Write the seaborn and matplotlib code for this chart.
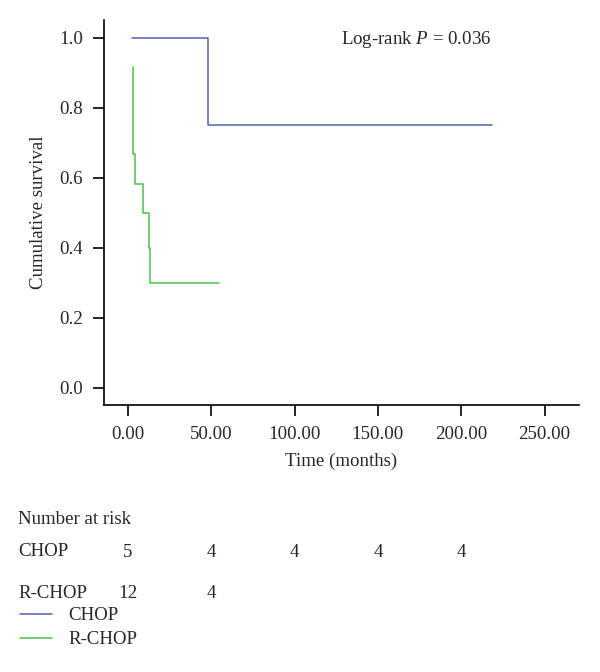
import matplotlib
matplotlib.use("Agg")
import matplotlib.pyplot as plt
import seaborn as sns
import pandas as pd

# Kaplan-Meier step points
chop_time = [2.2, 47.8, 218.5]
chop_surv = [1.0, 0.75, 0.75]
rchop_time = [3.0, 3.3, 4.2, 8.8, 12.8, 13.4, 54.8]
rchop_surv = [0.917, 0.667, 0.583, 0.5, 0.4, 0.3, 0.3]

groups = ["CHOP", "R-CHOP"]
colors = ["#4f63a8", "#4cbf4c"]

# number at risk table
risk_times = [0, 50, 100, 150, 200]
risk_chop = [5, 4, 4, 4, 4]
risk_rchop = [12, 4]

xticks = [0, 50, 100, 150, 200, 250]
yticks = [0.0, 0.2, 0.4, 0.6, 0.8, 1.0]

df = pd.DataFrame({
    "time": chop_time + rchop_time,
    "surv": chop_surv + rchop_surv,
    "group": ["CHOP"] * len(chop_time) + ["R-CHOP"] * len(rchop_time),
})

sns.set_style("ticks")
plt.rcParams["font.family"] = ["Liberation Serif", "DejaVu Serif"]
plt.rcParams["mathtext.fontset"] = "custom"
plt.rcParams["mathtext.it"] = "Liberation Serif:italic"
plt.rcParams["mathtext.rm"] = "Liberation Serif"
fs = 13.6

fig = plt.figure(figsize=(6, 6.72), dpi=100)
ax = fig.add_axes([0.1733, 0.3973, 0.7917, 0.5729])

sns.lineplot(data=df, x="time", y="surv", hue="group", palette=colors,
             drawstyle="steps-post", linewidth=1.1, ax=ax, estimator=None,
             sort=False)

ax.set_xlim(-14.4, 270.7)
ax.set_ylim(-0.049, 1.051)
ax.set_xticks(xticks)
ax.set_xticklabels([f"{v:.2f}" for v in xticks], fontsize=fs)
ax.set_yticks(yticks)
ax.set_yticklabels([f"{v:.1f}" for v in yticks], fontsize=fs)
ax.tick_params(axis="both", length=8, width=1.2, color="black", pad=7)
for s in ["left", "bottom"]:
    ax.spines[s].set_linewidth(1.2)
    ax.spines[s].set_color("black")
sns.despine(ax=ax)

ax.set_xlabel("Time (months)", fontsize=fs, labelpad=7)
ax.set_ylabel("Cumulative survival", fontsize=fs, labelpad=9)

ax.text(0.50, 0.95, "Log-rank $P$ = 0.036", transform=ax.transAxes,
        fontsize=fs, ha="left", va="center")

# number at risk
tr = ax.get_xaxis_transform()
fig.text(18 / 600, 1 - 519 / 672, "Number at risk", fontsize=fs, va="center")
fig.text(18 / 600, 1 - 552 / 672, "CHOP", fontsize=fs, va="center")
fig.text(18 / 600, 1 - 593 / 672, "R-CHOP", fontsize=fs, va="center")
for t, n in zip(risk_times, risk_chop):
    ax.text(t, (405 - 552) / 385, str(n), transform=tr, fontsize=fs,
            ha="center", va="center", clip_on=False)
for t, n in zip(risk_times, risk_rchop):
    ax.text(t, (405 - 593) / 385, str(n), transform=tr, fontsize=fs,
            ha="center", va="center", clip_on=False)

handles, labels = ax.get_legend_handles_labels()
ax.legend(handles, labels, loc="upper left",
          bbox_to_anchor=(20 / 600, 1 - 607 / 672),
          bbox_transform=fig.transFigure, frameon=False, fontsize=fs,
          handlelength=1.7, handletextpad=0.85, labelspacing=0.36,
          borderaxespad=0.0, borderpad=0.0)

fig.savefig("out.png", dpi=100)
